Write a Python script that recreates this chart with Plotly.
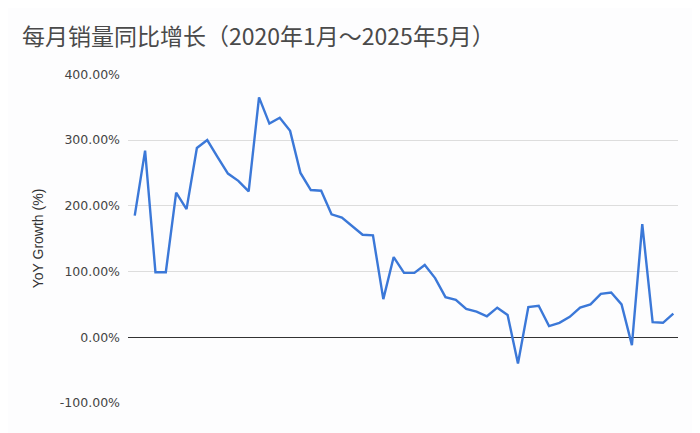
import plotly.graph_objects as go

title_text = "每月销量同比增长（2020年1月～2025年5月）"
y_title = "YoY Growth (%)"

yoy_growth = [185, 284, 99, 99, 220, 195, 288, 300, 274, 249, 238, 222, 365,
              325, 334, 314, 250, 224, 223, 187, 182, 169, 156, 155, 58, 122,
              98, 98, 110, 90, 61, 57, 43, 39, 32, 45, 34, -40, 46, 48, 17,
              22, 31, 45, 50, 66, 68, 50, -12, 172, 23, 22, 36]
months = list(range(len(yoy_growth)))

tick_vals = [-100, 0, 100, 200, 300, 400]
tick_text = ["-100.00%", "0.00%", "100.00%", "200.00%", "300.00%", "400.00%"]

# page body has an 8px default margin; figure is sized to fill the rest
W, H = 692, 425
fig = go.Figure()
fig.add_trace(go.Scatter(x=months, y=yoy_growth, mode="lines",
                         line=dict(color="#3b78d8", width=2.4),
                         hoverinfo="y"))

fig.update_layout(
    width=W, height=H,
    paper_bgcolor="#fdfdfe", plot_bgcolor="#fdfdfe",
    margin=dict(l=120, r=22, t=66, b=30, autoexpand=False),
    showlegend=False,
    title=dict(text=title_text, x=14/W, xanchor="left", y=1-29/H, yanchor="middle",
               font=dict(family="Noto Sans CJK SC, Arial", size=23, color="#4a4a4a")),
    font=dict(family="DejaVu Sans, Arial, sans-serif", color="#444444"),
)
fig.update_xaxes(range=[-0.65, 52.45], showticklabels=False, showgrid=False,
                 zeroline=False, showline=False, ticks="")
fig.update_yaxes(range=[-100, 400.5], tickvals=tick_vals, ticktext=tick_text,
                 tickfont=dict(family="DejaVu Sans", size=12.5, color="#444444"),
                 showgrid=True, gridcolor="#dddddd", gridwidth=1,
                 zeroline=True, zerolinecolor="#333333", zerolinewidth=1.2,
                 showline=False, ticks="", ticklabelstandoff=7,
                 title=dict(text=y_title, font=dict(family="Arial, Liberation Sans", size=14, color="#333333"),
                            standoff=12))

fig.write_html("out.html")
